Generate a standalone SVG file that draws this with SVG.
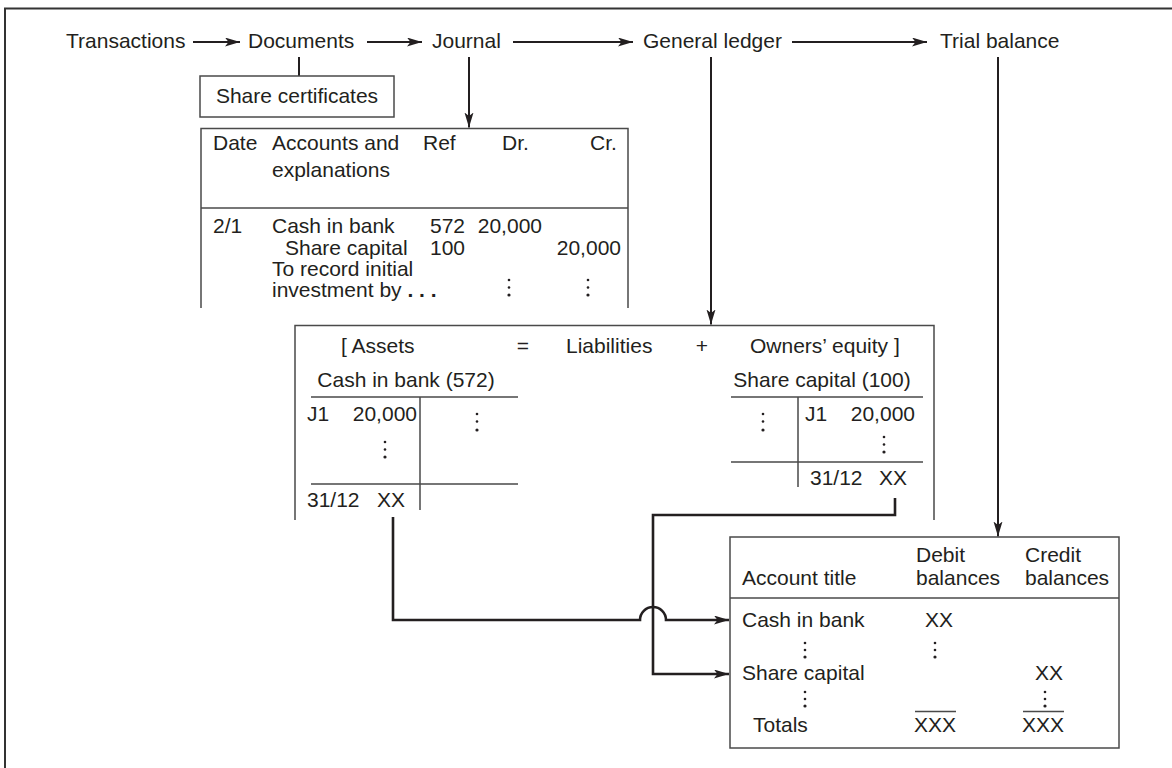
<svg xmlns="http://www.w3.org/2000/svg" width="1172" height="768" viewBox="0 0 1172 768">
<defs>
<marker id="ah" markerUnits="userSpaceOnUse" markerWidth="16" markerHeight="10" refX="15" refY="4.5" orient="auto">
<path d="M0,0 L15,4.5 L0,9 L3.5,4.5 Z" fill="#231f20"/>
</marker>
<style>
text{font-family:"Liberation Sans",Arial,Helvetica,sans-serif;font-size:21px;fill:#231f20}
.box{fill:none;stroke:#4a4a4a;stroke-width:1.5}
.flow{fill:none;stroke:#231f20;stroke-width:2}
.conn{fill:none;stroke:#231f20;stroke-width:2.6}
.dot{fill:#231f20}
.mid{text-anchor:middle}
.end{text-anchor:end}
</style>
</defs>
<rect width="1172" height="768" fill="#fff"/>
<path d="M5,768 V8.5 H1172" fill="none" stroke="#333" stroke-width="2"/>

<g id="connectors">
<line class="flow" x1="193" y1="42" x2="240" y2="42" marker-end="url(#ah)"/>
<line class="flow" x1="367" y1="42" x2="422" y2="42" marker-end="url(#ah)"/>
<line class="flow" x1="513" y1="42" x2="633" y2="42" marker-end="url(#ah)"/>
<line class="flow" x1="792" y1="42" x2="927" y2="42" marker-end="url(#ah)"/>
<line class="flow" x1="299" y1="57" x2="299" y2="76"/>
<line class="flow" x1="469" y1="57" x2="469" y2="127.5" marker-end="url(#ah)"/>
<line class="flow" x1="711" y1="57" x2="711" y2="324.5" marker-end="url(#ah)"/>
<line class="flow" x1="998" y1="57" x2="998" y2="536.5" marker-end="url(#ah)"/>
<path class="conn" d="M393,517 V620 H640 A13,13 0 0 1 666,620 H729" marker-end="url(#ah)"/>
<path class="conn" d="M895,498 V515 H653 V674 H729" marker-end="url(#ah)"/>
</g>

<g id="transactions"><text x="66" y="48">Transactions</text></g>
<g id="documents"><text x="248" y="48">Documents</text></g>
<g id="journal-label"><text x="432" y="48">Journal</text></g>
<g id="general-ledger-label"><text x="643" y="48">General ledger</text></g>
<g id="trial-balance-label"><text x="940" y="48">Trial balance</text></g>

<g id="share-certificates">
<rect class="box" x="200" y="76" width="194" height="41"/>
<text x="297" y="103" class="mid">Share certificates</text>
</g>

<g id="journal">
<path class="box" d="M201,308 V128.5 H628 V308"/>
<line class="box" x1="201" y1="208" x2="628" y2="208"/>
<text x="213" y="150">Date</text>
<text x="272" y="150">Accounts and</text>
<text x="272" y="177">explanations</text>
<text x="423" y="150">Ref</text>
<text x="502" y="150">Dr.</text>
<text x="590" y="150">Cr.</text>
<text x="213" y="233">2/1</text>
<text x="272" y="233">Cash in bank</text>
<text x="430" y="233">572</text>
<text x="542" y="233" class="end">20,000</text>
<text x="285" y="255">Share capital</text>
<text x="430" y="255">100</text>
<text x="621" y="255" class="end">20,000</text>
<text x="272" y="276">To record initial</text>
<text x="272" y="297">investment by <tspan font-weight="bold">. . .</tspan></text>
<circle class="dot" cx="509" cy="280" r="1.3"/><circle class="dot" cx="509" cy="287.5" r="1.3"/><circle class="dot" cx="509" cy="295" r="1.6"/>
<circle class="dot" cx="588" cy="280" r="1.3"/><circle class="dot" cx="588" cy="287.5" r="1.3"/><circle class="dot" cx="588" cy="295" r="1.6"/>
</g>

<g id="general-ledger">
<path class="box" d="M295,520 V325.5 H934 V520"/>
<text x="341" y="353">[ Assets</text>
<text x="523" y="353" class="mid">=</text>
<text x="566" y="353">Liabilities</text>
<text x="702" y="353" class="mid">+</text>
<text x="750" y="353">Owners’ equity ]</text>
<text x="406" y="387" class="mid">Cash in bank (572)</text>
<text x="822" y="387" class="mid">Share capital (100)</text>
<path class="box" d="M311,397 H518 M420,397 V510 M311,484 H518"/>
<path class="box" d="M731,397 H923 M798,397 V487 M731,462 H923"/>
<text x="307" y="421">J1</text>
<text x="417" y="421" class="end">20,000</text>
<circle class="dot" cx="385" cy="442" r="1.3"/><circle class="dot" cx="385" cy="449.5" r="1.3"/><circle class="dot" cx="385" cy="457" r="1.6"/>
<circle class="dot" cx="477" cy="414" r="1.3"/><circle class="dot" cx="477" cy="421.5" r="1.3"/><circle class="dot" cx="477" cy="430" r="1.6"/>
<text x="307" y="507">31/12</text>
<text x="405" y="507" class="end">XX</text>
<circle class="dot" cx="763" cy="414" r="1.3"/><circle class="dot" cx="763" cy="421.5" r="1.3"/><circle class="dot" cx="763" cy="430" r="1.6"/>
<text x="805" y="421">J1</text>
<text x="915" y="421" class="end">20,000</text>
<circle class="dot" cx="884" cy="437" r="1.3"/><circle class="dot" cx="884" cy="444.5" r="1.3"/><circle class="dot" cx="884" cy="452" r="1.6"/>
<text x="810" y="485">31/12</text>
<text x="907" y="485" class="end">XX</text>
</g>

<g id="trial-balance">
<rect class="box" x="730" y="537" width="389" height="211"/>
<line class="box" x1="730" y1="598" x2="1119" y2="598"/>
<text x="742" y="585">Account title</text>
<text x="916" y="562">Debit</text>
<text x="916" y="585">balances</text>
<text x="1025" y="562">Credit</text>
<text x="1025" y="585">balances</text>
<text x="742" y="627">Cash in bank</text>
<text x="953" y="627" class="end">XX</text>
<circle class="dot" cx="805" cy="643" r="1.3"/><circle class="dot" cx="805" cy="650" r="1.3"/><circle class="dot" cx="805" cy="657" r="1.6"/>
<circle class="dot" cx="935" cy="643" r="1.3"/><circle class="dot" cx="935" cy="650" r="1.3"/><circle class="dot" cx="935" cy="657" r="1.6"/>
<text x="742" y="680">Share capital</text>
<text x="1063" y="680" class="end">XX</text>
<circle class="dot" cx="805" cy="692" r="1.3"/><circle class="dot" cx="805" cy="699" r="1.3"/><circle class="dot" cx="805" cy="706" r="1.6"/>
<circle class="dot" cx="1045" cy="692" r="1.3"/><circle class="dot" cx="1045" cy="699" r="1.3"/><circle class="dot" cx="1045" cy="706" r="1.6"/>
<line class="box" x1="915" y1="711.5" x2="956" y2="711.5"/>
<line class="box" x1="1023" y1="711.5" x2="1064" y2="711.5"/>
<text x="753" y="732">Totals</text>
<text x="956" y="732" class="end">XXX</text>
<text x="1064" y="732" class="end">XXX</text>
</g>
</svg>
